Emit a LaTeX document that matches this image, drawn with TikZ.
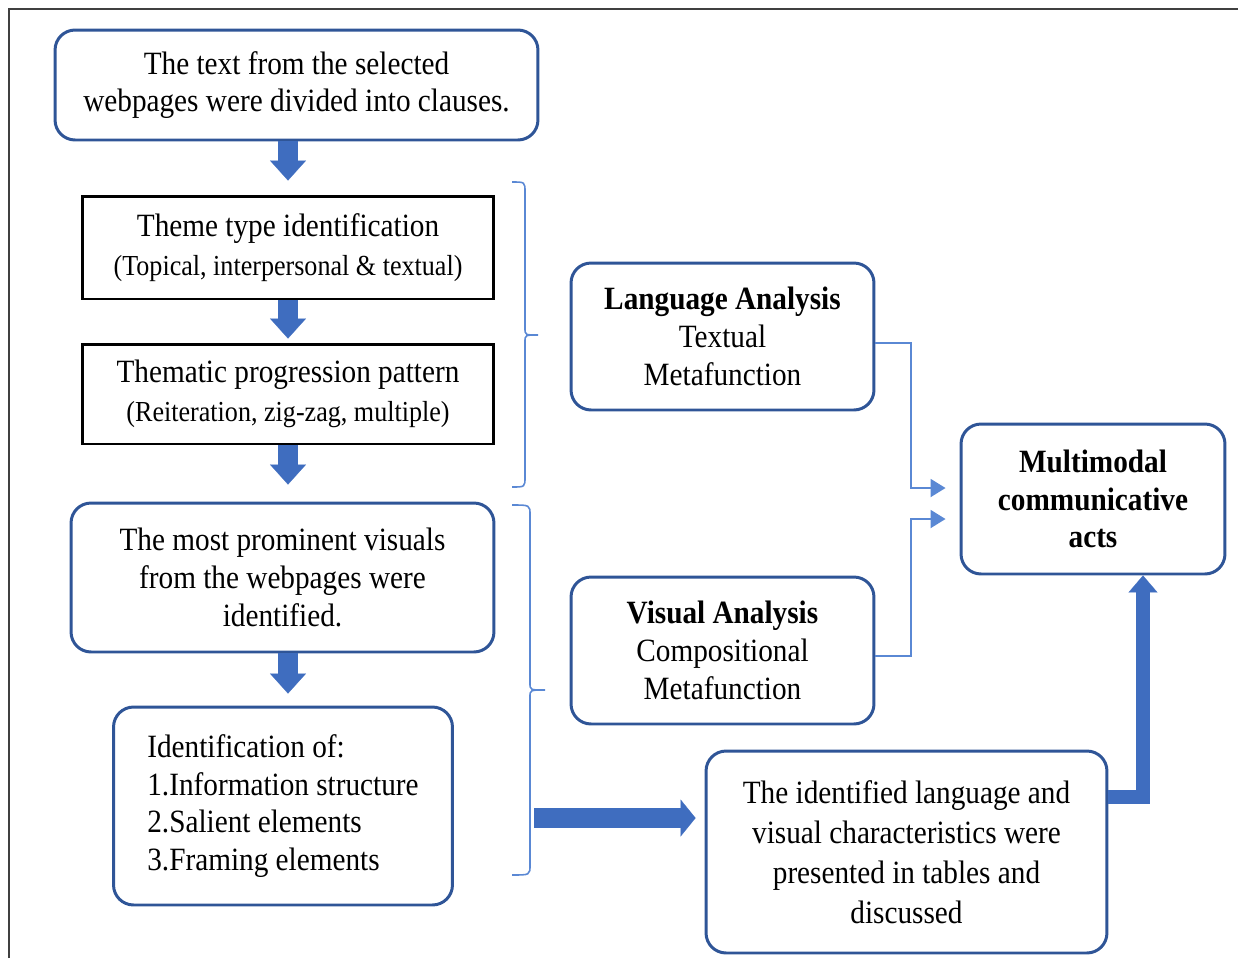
\documentclass[tikz,border=0pt]{standalone}
\usepackage{fontspec}
\setmainfont{Liberation Serif}[FakeStretch=0.9]
\usetikzlibrary{arrows.meta}
\definecolor{boxblue}{HTML}{2F5597}
\definecolor{arrowblue}{HTML}{3F6DBF}
\definecolor{lineblue}{HTML}{5A88D4}
\definecolor{framegray}{HTML}{404040}
\newcommand{\smalltxt}{\fontsize{16.5}{19}\selectfont}
\tikzset{
  roundbox/.style={draw=boxblue, line width=1.7pt, rounded corners=0.4cm, align=center, inner sep=0pt},
  plainbox/.style={draw=black, line width=1.7pt, align=center, inner sep=0pt},
  downarrow/.style={arrowblue, line width=0.4cm, -{Triangle[length=0.4cm,width=0.72cm,line width=0.1pt]}},
  rightarrow/.style={arrowblue, line width=0.4cm, -{Triangle[length=0.3cm,width=0.74cm,line width=0.1pt]}},
  uparrow/.style={arrowblue, line width=0.28cm, -{Triangle[length=0.34cm,width=0.58cm,line width=0.1pt]}},
  thinarrow/.style={lineblue, line width=1.1pt, -{Triangle[length=0.3cm,width=0.36cm]}},
  bracestyle/.style={lineblue, line width=0.9pt}
}
\begin{document}
\begin{tikzpicture}[x=0.02cm, y=-0.02cm, font=\fontsize{18.5}{21.5}\selectfont]
  \useasboundingbox (0,0) rectangle (1238,958);
  % Frame
  \draw[framegray, line width=1.2pt] (9,958) -- (9,9) -- (1238,9);
  % Left column
  \node[roundbox, minimum width=9.66cm, minimum height=2.2cm] (clauses) at (296.5,85)
    {The text from the selected\\webpages were divided into clauses.};
  \node[plainbox, minimum width=8.24cm, minimum height=2.06cm] (theme) at (288,247.5)
    {Theme type identification\\[1pt]{\smalltxt (Topical, interpersonal \& textual)}};
  \node[plainbox, minimum width=8.24cm, minimum height=2.0cm] (pattern) at (288,394)
    {Thematic progression pattern\\[1pt]{\smalltxt (Reiteration, zig-zag, multiple)}};
  \node[roundbox, minimum width=8.46cm, minimum height=2.98cm] (visuals) at (282.5,577.5)
    {The most prominent visuals\\from the webpages were\\identified.};
  \node[roundbox, align=left, minimum width=6.78cm, minimum height=3.96cm] (identof) at (283,806)
    {Identification of:\\1.Information structure\\2.Salient elements\\3.Framing elements};
  \draw[downarrow, shorten >=0.28cm] (theme.north |- clauses.south) -- (theme.north);
  \draw[downarrow, shorten >=0.08cm] (theme.south) -- (pattern.north);
  \draw[downarrow, shorten >=0.34cm] (pattern.south) -- (pattern.south |- visuals.north);
  \draw[downarrow, shorten >=0.24cm] (pattern.south |- visuals.south) -- (pattern.south |- identof.north);
  % Braces
  \draw[bracestyle] (512,182) .. controls (525,182) .. (525,192) -- (525,328)
    .. controls (525,335) .. (538,335) .. controls (525,335) .. (525,342) -- (525,477)
    .. controls (525,487) .. (512,487);
  \draw[bracestyle] (512,505) .. controls (530,505) .. (530,515) -- (530,683)
    .. controls (530,690) .. (545,690) .. controls (530,690) .. (530,697) -- (530,865)
    .. controls (530,875) .. (512,875);
  % Middle column
  \node[roundbox, minimum width=6.06cm, minimum height=2.94cm] (language) at (722.5,336.5)
    {\textbf{Language Analysis}\\Textual\\Metafunction};
  \node[roundbox, minimum width=6.06cm, minimum height=2.94cm] (visual) at (722.5,650.5)
    {\textbf{Visual Analysis}\\Compositional\\Metafunction};
  \node[roundbox, minimum width=8.02cm, minimum height=4.04cm, font=\fontsize{18.5}{22.7}\selectfont] (result) at (906.5,852)
    {The identified language and\\visual characteristics were\\presented in tables and\\discussed};
  % Right column
  \node[roundbox, minimum width=5.28cm, minimum height=3.0cm] (multimodal) at (1093,499)
    {\textbf{Multimodal}\\\textbf{communicative}\\\textbf{acts}};
  \draw[thinarrow, shorten >=0.28cm] (language.east |- 0,343) -| (911,488) -- (multimodal.west |- 0,488);
  \draw[thinarrow, shorten >=0.28cm] (visual.east |- 0,656) -| (911,519) -- (multimodal.west |- 0,519);
  \coordinate (hstart) at (534,818);
  \draw[rightarrow, shorten >=0.18cm] (hstart) -- (hstart -| result.west);
  \draw[uparrow] (result.east |- 0,797) -| (1143,0 |- multimodal.south);
\end{tikzpicture}
\end{document}
